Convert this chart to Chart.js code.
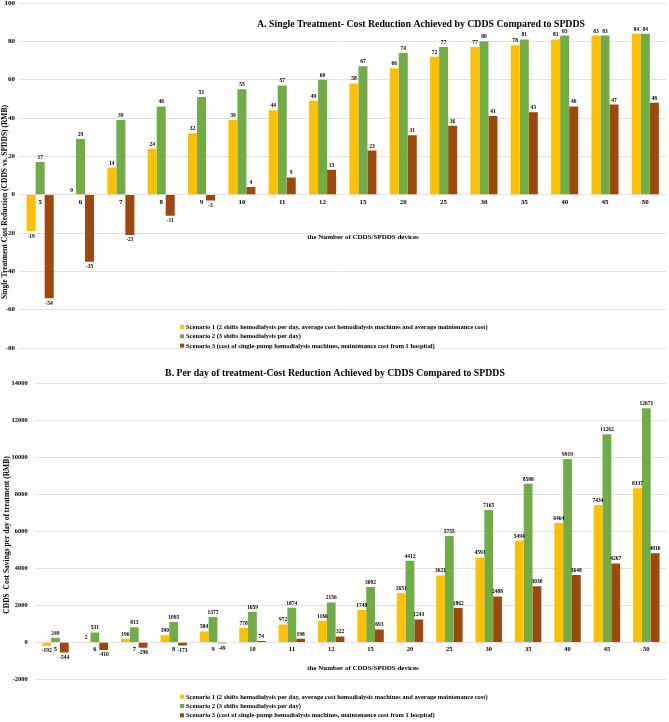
<!DOCTYPE html>
<html><head><meta charset="utf-8">
<script src="https://cdn.jsdelivr.net/npm/chart.js@4.4.1/dist/chart.umd.min.js"></script>
<style>
html,body{margin:0;padding:0;background:#fff;width:669px;height:722px;overflow:hidden;position:relative}
#wa{position:absolute;left:0;top:-10px;width:669px;height:370px}
#wb{position:absolute;left:0;top:355px;width:669px;height:367px}
</style></head><body>
<div id="wa"><canvas id="ca"></canvas></div>
<div id="wb"><canvas id="cb"></canvas></div>
<script>
const categories = ['5','6','7','8','9','10','11','12','15','20','25','30','35','40','45','50'];
const seriesNames = [
  'Scenario 1 (2 shifts hemodialysis per day, average cost hemodialysis machines and average maintenance cost)',
  'Scenario 2 (3 shifts hemodialysis per day)',
  'Scenario 3 (cost of single-pump hemodialysis machines, maintenance cost from 1 hospital)'
];
const singleS1 = [-19, 0, 14, 24, 32, 39, 44, 49, 58, 66, 72, 77, 78, 81, 83, 84];
const singleS2 = [17, 29, 39, 46, 51, 55, 57, 60, 67, 74, 77, 80, 81, 83, 83, 84];
const singleS3 = [-54, -35, -21, -11, -3, 4, 9, 13, 23, 31, 36, 41, 43, 46, 47, 48];
const perDayS1 = [-192, 2, 196, 390, 584, 778, 972, 1166, 1748, 2651, 3621, 4591, 5494, 6464, 7434, 8337];
const perDayS2 = [249, 531, 813, 1095, 1377, 1659, 1874, 2156, 3002, 4412, 5755, 7165, 8588, 9919, 11262, 12671];
const perDayS3 = [-544, -410, -296, -173, -49, 74, 198, 322, 693, 1243, 1862, 2488, 3030, 3648, 4267, 4816];
const ticksA = [-80, -60, -40, -20, 0, 20, 40, 60, 80, 100];
const ticksB = [-2000, 0, 2000, 4000, 6000, 8000, 10000, 12000, 14000];
const colors = ['#FFC000', '#70AD47', '#9E480E'];
const FONT = '"Liberation Serif", "Times New Roman", serif';

const valuePlugin = {
  id: 'vals',
  afterDatasetsDraw(chart, args, o) {
    const ctx = chart.ctx; ctx.save();
    ctx.font = 'bold ' + o.size + 'px ' + FONT;
    ctx.fillStyle = '#000'; ctx.textAlign = 'center'; ctx.textBaseline = 'middle';
    chart.data.datasets.forEach((ds, i) => {
      chart.getDatasetMeta(i).data.forEach((bar, j) => {
        const v = ds.data[j];
        const y = v >= 0 ? bar.y - o.up : bar.y + o.down;
        ctx.fillText(String(v), bar.x, y);
      });
    });
    ctx.restore();
  }
};

const overlayPlugin = {
  id: 'overlay',
  afterDraw(chart, args, o) {
    const ctx = chart.ctx; ctx.save();
    ctx.fillStyle = '#000'; ctx.textBaseline = 'middle'; ctx.textAlign = 'center';
    ctx.font = 'bold ' + o.titleSize + 'px ' + FONT;
    ctx.fillText(o.title, o.titleX, o.titleY);
    ctx.font = 'bold ' + o.xSize + 'px ' + FONT;
    ctx.fillText(o.xTitle, o.xTitleX, o.xTitleY);
    ctx.save();
    ctx.translate(o.yTitleX, o.yTitleY); ctx.rotate(-Math.PI / 2);
    ctx.font = 'bold ' + o.ySize + 'px ' + FONT;
    ctx.fillText(o.yTitle, 0, 0);
    ctx.restore();
    ctx.font = 'bold ' + o.legSize + 'px ' + FONT;
    ctx.textAlign = 'left';
    chart.data.datasets.forEach((ds, i) => {
      const y = o.legY + i * o.legStep;
      ctx.fillStyle = ds.backgroundColor;
      ctx.fillRect(o.legX, y - 2, 4, 4);
      ctx.fillStyle = '#000';
      ctx.fillText(ds.label, o.legX + 6, y + 0.5);
    });
    ctx.restore();
  }
};

function makeChart(id, data, yMin, yMax, ticks, yw, ypad, tickSize, catSize, layoutPad, valOpts, overlay) {
  return new Chart(document.getElementById(id), {
    type: 'bar',
    data: {
      labels: categories,
      datasets: data.map((d, i) => ({
        label: seriesNames[i], data: d, backgroundColor: colors[i],
        borderWidth: 0, categoryPercentage: 0.67, barPercentage: 1.0
      }))
    },
    options: {
      responsive: true, maintainAspectRatio: false, animation: false,
      layout: { padding: layoutPad },
      plugins: { legend: { display: false }, tooltip: { enabled: false }, title: { display: false },
        vals: valOpts, overlay: overlay },
      scales: {
        x: {
          position: { y: 0 },
          grid: { display: false, drawTicks: false },
          border: { display: false },
          ticks: { color: '#000', font: { family: FONT, size: catSize, weight: 'bold' }, padding: 3, maxRotation: 0, autoSkip: false }
        },
        y: {
          min: yMin, max: yMax,
          afterBuildTicks: s => { s.ticks = ticks.map(v => ({ value: v })); },
          afterFit: s => { s.width = yw; },
          grid: { color: '#d9d9d9', lineWidth: 0.75, drawTicks: false },
          border: { display: false },
          ticks: { color: '#000', padding: ypad, font: { family: FONT, size: tickSize, weight: 'bold' },
            callback: v => String(v) }
        }
      }
    },
    plugins: [valuePlugin, overlayPlugin]
  });
}

// Chart A (canvas offset -10 in page)
makeChart('ca', [singleS1, singleS2, singleS3], -80, 100, ticksA, 20, 5, 7, 7,
  { top: 13, bottom: 12, left: 0, right: 3.5 },
  { size: 5.5, up: 4.5, down: 5 },
  { title: 'A. Single Treatment- Cost Reduction Achieved by CDDS Compared to SPDDS', titleSize: 9.8, titleX: 421, titleY: 34,
    xTitle: 'the Number of CDDS/SPDDS devices', xSize: 7, xTitleX: 363, xTitleY: 247,
    yTitle: 'Single Treatment Cost Reduction (CDDS vs. SPDDS) (RMB)', ySize: 7.5, yTitleX: 5, yTitleY: 212,
    legSize: 6.5, legX: 180, legY: 337, legStep: 9.3 });

// Chart B (canvas offset 355 in page)
makeChart('cb', [perDayS1, perDayS2, perDayS3], -2000, 14000, ticksB, 35.8, 8, 6.5, 6.5,
  { top: 28.7, bottom: 42.7, left: 0, right: 3 },
  { size: 5.5, up: 4.5, down: 5 },
  { title: 'B. Per day of treatment-Cost Reduction Achieved by CDDS Compared to SPDDS', titleSize: 9.8, titleX: 335, titleY: 18,
    xTitle: 'the Number of CDDS/SPDDS devices', xSize: 7, xTitleX: 363, xTitleY: 312.7,
    yTitle: 'CDDS  Cost Savings per day of treatment (RMB)', ySize: 7.5, yTitleX: 7, yTitleY: 180,
    legSize: 6.5, legX: 180, legY: 341.7, legStep: 9.3 });
</script>
</body></html>
